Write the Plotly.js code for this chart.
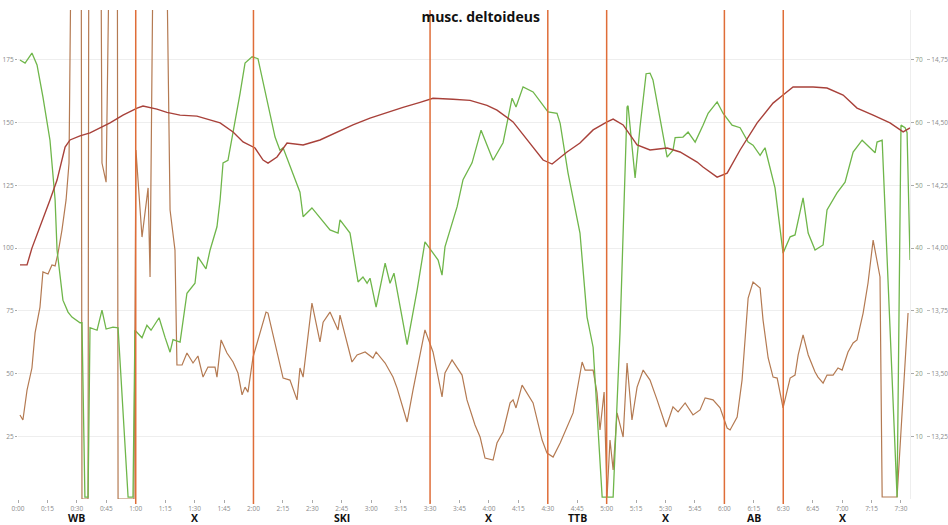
<!DOCTYPE html>
<html>
<head>
<meta charset="utf-8">
<script src="https://cdn.plot.ly/plotly-3.0.1.min.js"></script>
<style>html,body{margin:0;padding:0;background:#fff;}#chart{width:948px;height:525px;}</style>
</head>
<body>
<div id="chart"></div>
<script>
// ---- data ----
// time in seconds
const tickVals = [0,15,30,45,60,75,90,105,120,135,150,165,180,195,210,225,240,255,270,285,300,315,330,345,360,375,390,405,420,435,450];
const tickText = ['0:00','0:15','0:30','0:45','1:00','1:15','1:30','1:45','2:00','2:15','2:30','2:45','3:00','3:15','3:30','3:45','4:00','4:15','4:30','4:45','5:00','5:15','5:30','5:45','6:00','6:15','6:30','6:45','7:00','7:15','7:30'];

const phaseBounds = [0,60,120,210,270,300,360,390,450];
const phaseNames = ['WB','X','SKI','X','TTB','X','AB','X'];

// brown series (left axis)
const brownT = [1.0,2.5,4.6,7.1,8.7,11.2,12.7,15.3,17.3,18.9,20.4,22.4,24.5,26.0,28.0,32.1,32.6,35.7,36.2,41.8,42.8,44.9,47.9,50.5,51.0,59.1,60.1,63.2,66.3,67.3,69.8,74.4,77.5,80.0,81.0,83.6,86.1,89.2,91.7,94.3,96.8,100.4,101.4,103.5,106.5,109.6,112.1,114.2,115.7,117.2,119.8,123.3,126.4,127.4,133.5,135.1,138.6,142.2,143.7,145.3,149.8,153.9,155.5,159.0,163.1,164.1,170.2,172.8,176.9,180.9,182.5,187.1,191.1,193.2,198.3,201.3,207.4,211.5,214.1,216.1,217.6,221.2,226.3,228.8,232.9,235.5,238.0,242.1,244.1,247.2,250.8,252.3,253.8,256.9,262.5,267.1,269.6,272.7,276.3,282.9,287.5,289.0,293.1,295.1,296.6,298.7,300.2,301.7,303.3,305.3,308.4,310.4,312.9,315.5,318.6,322.1,325.7,330.3,333.8,336.4,340.0,344.0,347.6,350.2,354.2,357.8,361.4,362.9,366.5,369.0,372.1,374.6,378.2,379.7,382.3,384.8,386.9,389.9,393.5,396.0,397.6,400.1,402.7,406.2,407.7,410.3,412.3,415.4,417.9,420.0,423.0,425.6,427.6,430.7,433.2,435.8,439.3,440.4,448.0,453.6];
const brownV = [33.5,31.5,43.4,52.2,66.2,76.5,90.5,89.7,93.3,92.9,98.0,107.2,119.2,133.9,300,300,0,0,300,300,133.9,126.3,300,300,0,0,139.1,104.4,124.0,88.5,300,300,115.2,99.2,53.4,53.4,58.2,54.2,57.0,48.6,52.6,52.6,48.6,63.4,58.2,54.6,50.2,41.5,44.6,42.6,56.6,66.2,74.5,74.1,52.6,48.2,47.4,39.5,52.2,48.6,78.1,62.6,70.5,74.5,67.4,73.3,54.6,57.4,58.6,56.2,58.6,54.2,48.6,44.2,30.7,43.4,67.4,58.6,48.6,40.7,50.2,55.4,49.4,39.5,29.5,24.7,16.3,15.5,22.3,26.7,38.3,39.5,36.3,45.4,38.3,23.5,18.3,16.7,22.3,34.3,54.6,51.4,51.4,42.2,27.5,42.6,0.8,23.5,11.6,34.3,24.7,54.2,31.5,44.6,51.4,47.4,39.5,28.7,36.7,34.7,38.3,33.5,35.5,40.3,39.5,36.3,28.3,27.5,32.7,47.4,80.1,86.5,84.1,71.3,56.2,48.6,48.2,36.3,48.2,49.4,57.4,65.4,57.4,50.6,48.6,46.2,49.4,49.4,52.2,51.4,58.6,62.2,63.4,74.1,86.1,103.2,88.5,0.8,0.8,74.1];

// green series (middle right axis)
const greenT = [1.0,3.6,7.1,9.7,12.7,16.3,18.9,19.9,22.9,25.5,27.5,31.6,32.6,34.1,35.7,36.7,40.3,42.8,44.9,48.4,51.0,56.1,58.6,59.6,63.2,65.7,67.8,71.9,74.9,77.5,79.0,82.6,86.1,90.2,91.7,95.8,97.9,101.4,103.0,104.5,107.0,109.6,113.2,115.7,119.3,122.3,124.9,128.4,131.0,133.5,135.1,143.7,145.3,149.8,159.0,163.1,164.1,169.2,173.3,175.8,177.9,179.4,182.5,187.1,189.6,191.6,198.3,203.4,207.4,214.1,216.1,217.6,223.8,226.8,231.4,236.0,240.6,242.1,247.2,251.8,253.8,257.4,262.5,270.1,274.7,276.3,280.3,286.4,290.0,293.1,297.7,303.3,306.8,310.4,310.9,314.5,317.0,320.1,322.1,323.6,330.8,333.8,334.9,338.9,341.5,345.1,349.1,351.7,356.3,359.3,363.9,368.0,372.1,374.6,378.2,380.7,385.8,389.9,393.5,396.0,400.1,402.7,406.2,410.3,412.3,417.4,421.5,425.6,430.2,436.8,437.8,440.4,448.0,450.0,452.1,453.1,454.6];
const greenV = [70.0,69.5,71.1,69.2,64.1,57.2,47.7,39.7,31.7,29.8,29.0,28.1,28.1,0.3,0.3,27.3,26.9,30.1,27.1,27.4,27.3,0.3,0.3,26.9,25.7,27.7,26.9,28.9,25.8,23.4,25.4,25.0,32.8,34.4,38.6,36.7,39.7,43.4,47.7,53.6,54.0,58.4,64.7,69.5,70.5,70.2,66.3,61.5,57.7,55.6,56.0,48.9,45.0,46.4,42.9,42.4,44.5,42.4,34.6,35.4,34.4,35.2,30.6,37.6,34.4,36.0,24.6,33.3,41.0,38.1,35.7,40.2,46.6,50.9,53.6,58.8,55.2,54.0,56.8,63.9,62.5,65.7,64.9,61.7,61.5,59.9,52.0,42.4,29.0,24.2,0.3,0.3,26.5,62.5,62.7,51.2,59.3,67.8,67.9,66.8,54.5,55.6,57.6,57.7,58.5,56.9,59.6,61.5,63.3,61.5,59.6,59.2,56.9,56.4,54.8,56.0,49.6,39.2,41.8,42.1,48.0,42.4,39.7,40.5,46.1,48.8,50.5,55.3,57.2,55.2,56.9,57.2,0.3,59.6,59.2,58.4,38.1];

// dark red series (far right axis)
const redT = [1.0,4.6,7.1,12.7,16.3,19.9,24.0,26.5,31.6,36.7,41.8,46.9,53.5,60.7,63.7,70.8,75.9,82.6,91.2,96.3,103.0,109.6,114.7,120.8,124.9,127.4,132.0,137.1,145.3,153.9,162.6,170.7,179.4,188.1,196.2,204.9,211.5,221.7,230.4,239.0,244.1,252.3,260.9,267.6,272.2,279.8,286.4,293.1,300.2,303.3,308.4,315.5,322.1,330.8,337.4,346.1,349.1,356.3,361.4,368.0,376.7,384.8,389.9,395.0,405.2,412.3,420.5,427.6,435.8,444.4,451.1,454.6];
const redV = [13.933,13.933,14.000,14.112,14.192,14.271,14.403,14.431,14.447,14.459,14.479,14.499,14.530,14.558,14.566,14.554,14.541,14.530,14.526,14.514,14.499,14.463,14.423,14.399,14.351,14.339,14.363,14.419,14.411,14.431,14.463,14.491,14.518,14.541,14.561,14.581,14.597,14.593,14.589,14.569,14.550,14.503,14.419,14.351,14.335,14.383,14.419,14.471,14.503,14.514,14.491,14.411,14.391,14.399,14.383,14.343,14.323,14.283,14.299,14.391,14.499,14.578,14.610,14.642,14.642,14.638,14.610,14.558,14.530,14.499,14.463,14.479];

// ---- chart ----
const markerColor = '#df6d38';
const traces = [
  {x: brownT, y: brownV, yaxis: 'y', type: 'scatter', mode: 'lines', line: {color: '#b47a52', width: 1.2}, hoverinfo: 'skip'},
  {x: greenT, y: greenV, yaxis: 'y2', type: 'scatter', mode: 'lines', line: {color: '#6fb64a', width: 1.3}, hoverinfo: 'skip'},
  {x: redT, y: redV, yaxis: 'y3', type: 'scatter', mode: 'lines', line: {color: '#a8413a', width: 1.4}, hoverinfo: 'skip'}
];

const shapes = phaseBounds.slice(1, -1).map(t => ({
  type: 'line', xref: 'x', yref: 'paper', x0: t, x1: t, y0: -0.01, y1: 1,
  line: {color: markerColor, width: 1.5}
}));

const annotations = phaseNames.map((name, i) => ({
  text: '<b>' + name + '</b>', xref: 'x', yref: 'paper',
  x: (phaseBounds[i] + phaseBounds[i + 1]) / 2, y: 0, yanchor: 'middle', xanchor: 'center', yshift: -19,
  borderpad: 0, showarrow: false, font: {family: 'Open Sans, sans-serif', size: 10.5, color: '#111'}
}));

const tickFont = {family: 'Open Sans, sans-serif', size: 6.5, color: '#8a8a8a'};
const layout = {
  width: 948, height: 525,
  margin: {l: 18, r: 22, t: 10, b: 26},
  paper_bgcolor: '#fff', plot_bgcolor: '#fff',
  showlegend: false,
  separators: ',.',
  title: {text: '<b>musc. deltoideus</b>', xref: 'container', yref: 'container', x: 0.507, y: 0.967, xanchor: 'center', yanchor: 'middle',
          font: {family: 'Open Sans, sans-serif', size: 14, color: '#111'}},
  xaxis: {domain: [0, 0.9824], range: [0, 454.6], tickvals: tickVals, ticktext: tickText,
          ticks: 'outside', ticklen: 3, tickcolor: '#aaa', tickfont: tickFont,
          showgrid: false, zeroline: false, showline: false},
  yaxis: {range: [0, 194.9], tickvals: [25,50,75,100,125,150,175], ticks: 'outside', ticklen: 2, tickcolor: '#aaa',
          tickfont: tickFont, showgrid: true, gridcolor: '#eeeeee', zeroline: false, showline: false},
  yaxis2: {overlaying: 'y', side: 'right', anchor: 'x', range: [0, 77.96], tickvals: [10,20,30,40,50,60,70],
           ticks: 'outside', ticklen: 3, tickcolor: '#aaa', tickfont: {family: 'Open Sans, sans-serif', size: 6.5, color: '#8a9a80'},
           showgrid: false, zeroline: false, showline: true, linecolor: '#eeeeee'},
  yaxis3: {overlaying: 'y', side: 'right', anchor: 'free', position: 1, range: [13, 14.949],
           tickvals: [13.25,13.5,13.75,14,14.25,14.5,14.75], tickformat: '.2f',
           ticks: 'outside', ticklen: 3, tickcolor: '#bbb', tickfont: tickFont,
           showgrid: false, zeroline: false, showline: false},
  shapes: shapes,
  annotations: annotations
};

Plotly.newPlot('chart', traces, layout, {staticPlot: true, displayModeBar: false});
</script>
</body>
</html>
